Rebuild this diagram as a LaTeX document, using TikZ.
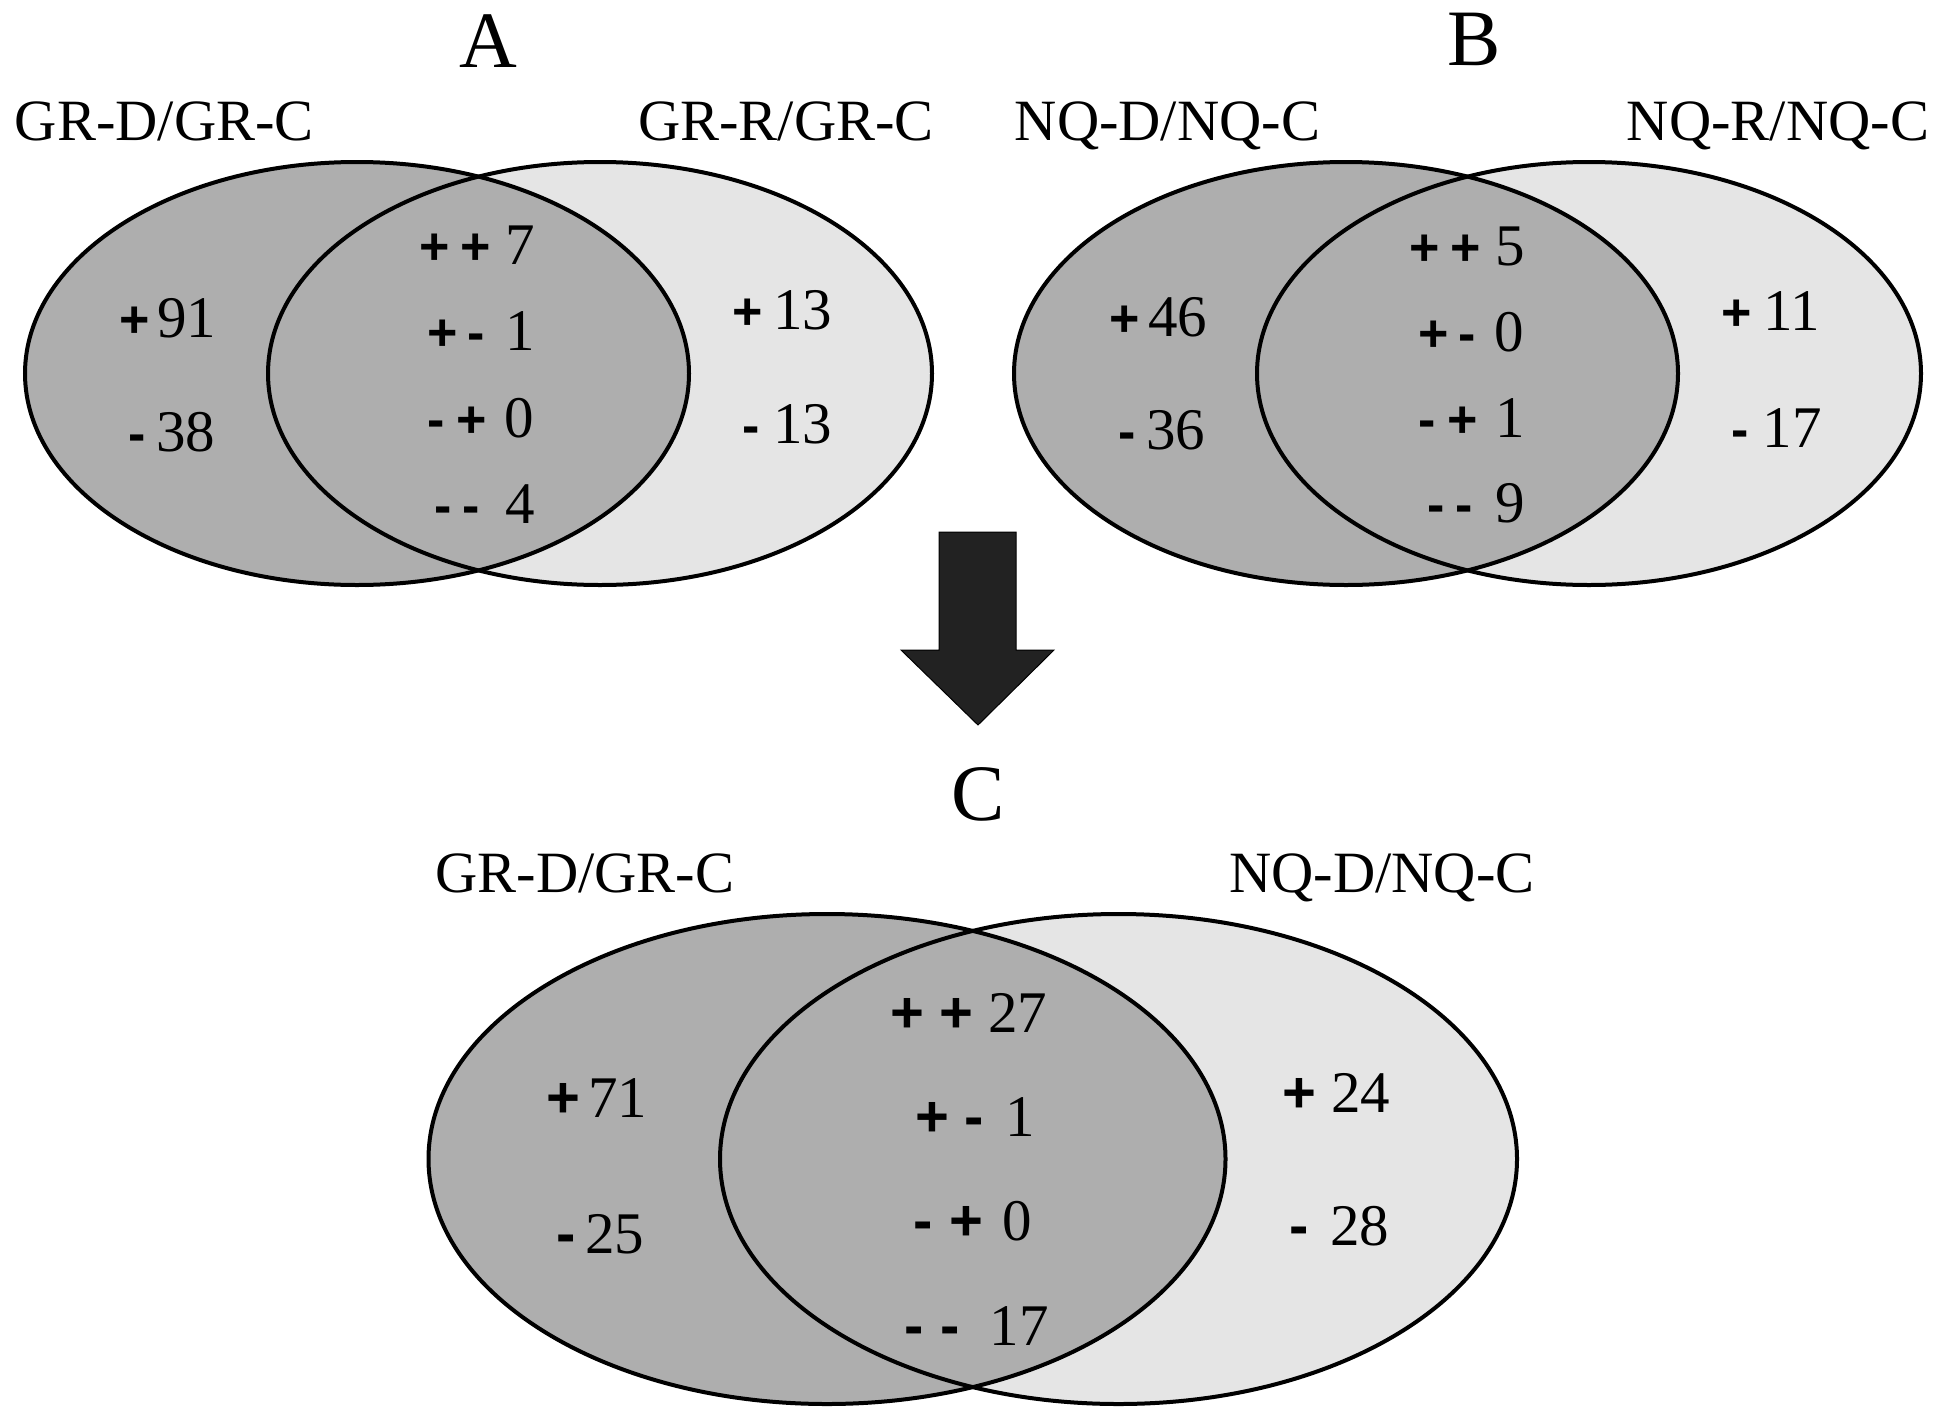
\documentclass[tikz,border=0pt]{standalone}
\usepackage{fontspec}
\setmainfont{Liberation Serif}
\newfontfamily\symfont{Liberation Sans}
\definecolor{darkfill}{RGB}{174,174,174}
\definecolor{lightfill}{RGB}{229,229,229}
\definecolor{arrowfill}{RGB}{34,34,34}
\newcommand\syA[1]{{\symfont\bfseries\fontsize{52}{52}\selectfont #1}}
\newcommand\syC[1]{{\symfont\bfseries\fontsize{58}{58}\selectfont #1}}
% side cell: symbol, gap, number
\newcommand\srow[4]{\llap{#1{#2}\hspace{#3pt}}#4}
% centre cell: symbol1, inner gap, symbol2, gap, number
\newcommand\crow[6]{\llap{#1{#2}\hspace{#3pt}#1{#4}\hspace{#5pt}}#6}
\begin{document}
\begin{tikzpicture}[x=1pt,y=-1pt,
  title/.style={font=\fontsize{80}{80}\selectfont, anchor=base, inner sep=0pt},
  setlabel/.style={font=\fontsize{58.5}{58.5}\selectfont, anchor=base, inner sep=0pt},
  num/.style={font=\fontsize{59}{59}\selectfont, anchor=base west, inner sep=0pt},
  setL/.style={fill=darkfill},
  setR/.style={fill=lightfill},
  outline/.style={draw=black, line width=4pt},
  bigarrow/.style={fill=arrowfill, draw=black, line width=1pt, line join=miter}]
\useasboundingbox (0,0) rectangle (1937,1421);

% ---------------- Panel A ----------------
\path[setR] (600,373.5) ellipse [x radius=332pt, y radius=211.5pt];
\path[setL] (357,373.5) ellipse [x radius=332pt, y radius=211.5pt];
\draw[outline] (600,373.5) ellipse [x radius=332pt, y radius=211.5pt];
\draw[outline] (357,373.5) ellipse [x radius=332pt, y radius=211.5pt];

\node[title] (tA) at (488,67) {A};
\node[setlabel] (lA1) at (164.5,140) {GR-D/GR-C};
\node[setlabel] (lA2) at (786,140) {GR-R/GR-C};

\node[num] (a1) at (157,337) {\srow\syA{+}{7}{91}};
\node[num] (a2) at (156,451) {\srow\syA{-}{10}{38}};
\node[num] (a3) at (505,264) {\crow\syA{+}{11}{+}{14}{7}};
\node[num] (a4) at (505,350) {\crow\syA{+}{10}{-}{20}{1}};
\node[num] (a5) at (504,437) {\crow\syA{-}{12}{+}{17}{0}};
\node[num] (a6) at (505,523) {\crow\syA{-}{11}{-}{25}{4}};
\node[num] (a7) at (773,329) {\srow\syA{+}{10}{13}};
\node[num] (a8) at (773,443) {\srow\syA{-}{13}{13}};

% ---------------- Panel B ----------------
\path[setR] (1589,373.5) ellipse [x radius=332pt, y radius=211.5pt];
\path[setL] (1346,373.5) ellipse [x radius=332pt, y radius=211.5pt];
\draw[outline] (1589,373.5) ellipse [x radius=332pt, y radius=211.5pt];
\draw[outline] (1346,373.5) ellipse [x radius=332pt, y radius=211.5pt];

\node[title] (tB) at (1474,66) {B};
\node[setlabel] (lB1) at (1167.5,140) {NQ-D/NQ-C};
\node[setlabel] (lB2) at (1778,140) {NQ-R/NQ-C};

\node[num] (b1) at (1148,336) {\srow\syA{+}{8}{46}};
\node[num] (b2) at (1146,449) {\srow\syA{-}{10}{36}};
\node[num] (b3) at (1495,265) {\crow\syA{+}{11}{+}{14}{5}};
\node[num] (b4) at (1494,351) {\crow\syA{+}{10}{-}{18}{0}};
\node[num] (b5) at (1495,437) {\crow\syA{-}{12}{+}{17}{1}};
\node[num] (b6) at (1495,522) {\crow\syA{-}{11}{-}{22}{9}};
\node[num] (b7) at (1763,330) {\srow\syA{+}{11.5}{11}};
\node[num] (b8) at (1762.5,447) {\srow\syA{-}{13.5}{17}};

% ---------------- Arrow ----------------
\filldraw[bigarrow] (939,532) -- (1016,532) -- (1016,650) -- (1054,650)
  -- (978,725) -- (901,650) -- (939,650) -- cycle;

% ---------------- Panel C ----------------
\path[setR] (1118.5,1159) ellipse [x radius=398.5pt, y radius=245pt];
\path[setL] (827,1159) ellipse [x radius=398.5pt, y radius=245pt];
\draw[outline] (1118.5,1159) ellipse [x radius=398.5pt, y radius=245pt];
\draw[outline] (827,1159) ellipse [x radius=398.5pt, y radius=245pt];

\node[title] (tC) at (978,820) {C};
\node[setlabel] (lC1) at (585,892) {GR-D/GR-C};
\node[setlabel] (lC2) at (1382,892) {NQ-D/NQ-C};

\node[num] (c1) at (588,1117) {\srow\syC{+}{8}{71}};
\node[num] (c2) at (585,1253) {\srow\syC{-}{9.5}{25}};
\node[num] (c3) at (988,1032) {\crow\syC{+}{15}{+}{15}{27}};
\node[num] (c4) at (1005.5,1136) {\crow\syC{+}{15}{-}{22}{1}};
\node[num] (c5) at (1002.5,1240) {\crow\syC{-}{17}{+}{19.5}{0}};
\node[num] (c6) at (989.5,1345) {\crow\syC{-}{16.5}{-}{30}{17}};
\node[num] (c7) at (1331,1112) {\srow\syC{+}{15}{24}};
\node[num] (c8) at (1330,1245) {\srow\syC{-}{21.5}{28}};
\end{tikzpicture}
\end{document}
